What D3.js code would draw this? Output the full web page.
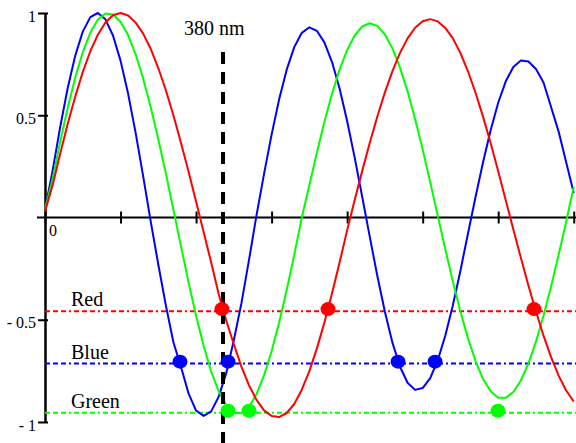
<!DOCTYPE html>
<html>
<head>
<meta charset="utf-8">
<script src="https://cdn.jsdelivr.net/npm/d3@7"></script>
<style>
  body { margin: 0; background: #fff; }
  svg { display: block; font-family: "Liberation Serif", "Times New Roman", serif; }
  svg text { font-family: "Liberation Serif", "Times New Roman", serif; }
</style>
</head>
<body>
<div id="chart"></div>
<script>
// sampled every 0.1 along the x axis (ticks 0..7)
const xStep = 0.1;

const blueValues = [
  0.04, 0.227, 0.44, 0.632, 0.791, 0.909, 0.98, 1.0, 0.969, 0.89,
  0.767, 0.606, 0.414, 0.201, -0.02, -0.23, -0.43, -0.61, -0.73, -0.86,
  -0.944, -0.97, -0.948, -0.876, -0.76, -0.6, -0.42, -0.21, 0.01, 0.213,
  0.405, 0.578, 0.723, 0.833, 0.903, 0.93, 0.913, 0.855, 0.76, 0.631,
  0.472, 0.293, 0.1, -0.095, -0.286, -0.461, -0.612, -0.73, -0.808, -0.843,
  -0.834, -0.785, -0.698, -0.577, -0.429, -0.26, -0.078, 0.1, 0.271, 0.427,
  0.561, 0.666, 0.736, 0.768, 0.763, 0.726, 0.66, 0.54, 0.42, 0.27, 0.12
];

const greenValues = [
  0.04, 0.187, 0.368, 0.535, 0.684, 0.808, 0.904, 0.968, 0.998, 0.993,
  0.957, 0.892, 0.798, 0.679, 0.539, 0.383, 0.215, 0.038, -0.14, -0.316,
  -0.48, -0.627, -0.753, -0.85, -0.918, -0.955, -0.957, -0.926, -0.864, -0.772,
  -0.654, -0.513, -0.355, -0.183, 0.0, 0.158, 0.318, 0.469, 0.605, 0.723,
  0.819, 0.89, 0.934, 0.95, 0.937, 0.895, 0.827, 0.733, 0.617, 0.482,
  0.333, 0.173, 0.008, -0.155, -0.313, -0.46, -0.591, -0.702, -0.79, -0.85,
  -0.881, -0.882, -0.853, -0.797, -0.713, -0.607, -0.48, -0.337, -0.182, -0.021, 0.15
];

const redValues = [
  0.03, 0.157, 0.311, 0.457, 0.591, 0.711, 0.813, 0.894, 0.954, 0.989,
  1.0, 0.988, 0.953, 0.899, 0.824, 0.731, 0.622, 0.5, 0.366, 0.225,
  0.078, -0.071, -0.22, -0.375, -0.505, -0.62, -0.729, -0.82, -0.892, -0.943,
  -0.971, -0.976, -0.956, -0.912, -0.842, -0.751, -0.64, -0.512, -0.371, -0.22,
  -0.063, 0.086, 0.228, 0.365, 0.494, 0.612, 0.716, 0.805, 0.876, 0.928,
  0.96, 0.97, 0.959, 0.927, 0.876, 0.804, 0.715, 0.61, 0.492, 0.364,
  0.226, 0.084, -0.058, -0.197, -0.333, -0.46, -0.578, -0.683, -0.773, -0.846, -0.9
];

// horizontal reference levels
const levels = [
  { name: "Red",   color: "#ff0000", value: -0.458 },
  { name: "Blue",  color: "#0000ff", value: -0.714 },
  { name: "Green", color: "#00ff00", value: -0.955 }
];

// marked crossings
const redDotsX = [2.343, 3.747, 6.474];
const redDotsY = [-0.448, -0.448, -0.448];
const blueDotsX = [1.787, 2.423, 4.674, 5.164];
const blueDotsY = [-0.705, -0.705, -0.705, -0.705];
const greenDotsX = [2.423, 2.701, 5.998];
const greenDotsY = [-0.945, -0.945, -0.945];

const markerX = 2.357;
const markerLabel = "380 nm";

const xTicks = [0, 1, 2, 3, 4, 5, 6, 7];
const yTicks = [-1, -0.5, 0.5, 1];

const width = 576, height = 443;
const serif = "'Liberation Serif', 'Times New Roman', serif";

const svg = d3.select("#chart").append("svg")
  .attr("width", width)
  .attr("height", height);

const x = d3.scaleLinear().domain([0, 7.03]).range([45, 576]);
const y = d3.scaleLinear().domain([-1, 1]).range([422, 13]);

// x axis (crossing ticks, no labels)
const xAxisG = svg.append("g")
  .attr("transform", `translate(0,${y(0)})`)
  .call(d3.axisBottom(x).tickValues(xTicks).tickFormat("").tickSizeOuter(0));
xAxisG.select(".domain").remove();
xAxisG.selectAll(".tick line")
  .attr("y1", -6).attr("y2", 6)
  .attr("stroke", "#000").attr("stroke-width", 2);
xAxisG.append("line")
  .attr("x1", 37).attr("x2", width)
  .attr("stroke", "#000").attr("stroke-width", 2);

// y axis
const yAxisG = svg.append("g")
  .attr("transform", `translate(${x(0)},0)`)
  .call(d3.axisLeft(y).tickValues(yTicks)
    .tickFormat(d => d < 0 ? "- " + Math.abs(d) : d)
    .tickSizeOuter(0).tickSizeInner(7))
  .attr("font-family", serif)
  .attr("font-size", 16);
yAxisG.select(".domain").attr("stroke", "#000").attr("stroke-width", 2.5);
yAxisG.selectAll(".tick line")
  .attr("x1", 3).attr("x2", -7)
  .attr("stroke", "#000").attr("stroke-width", 2);
yAxisG.selectAll(".tick text")
  .attr("x", -9).attr("dy", "0.5em")
  .style("font-family", serif)
  .attr("fill", "#000");

svg.append("text")
  .attr("x", 49).attr("y", 236)
  .attr("font-size", 16)
  .text("0");

// level lines + labels
svg.selectAll(".level")
  .data(levels)
  .enter().append("line")
  .attr("class", "level")
  .attr("x1", x(0)).attr("x2", width)
  .attr("y1", d => y(d.value)).attr("y2", d => y(d.value))
  .attr("stroke", d => d.color)
  .attr("stroke-width", 2)
  .attr("stroke-dasharray", "5,3,5,3,5,3,2,3");

svg.selectAll(".levelLabel")
  .data(levels)
  .enter().append("text")
  .attr("class", "levelLabel")
  .attr("x", 71)
  .attr("y", d => y(d.value) - 5)
  .attr("font-size", 20)
  .text(d => d.name);

// curves
const line = d3.line()
  .x((d, i) => x(i * xStep))
  .y(d => y(d));

const series = [
  { values: blueValues, color: "#0000ff" },
  { values: greenValues, color: "#00ff00" },
  { values: redValues, color: "#ff0000" }
];

svg.selectAll(".curve")
  .data(series)
  .enter().append("path")
  .attr("class", "curve")
  .attr("d", d => line(d.values))
  .attr("fill", "none")
  .attr("stroke", d => d.color)
  .attr("stroke-width", 2)
  .attr("stroke-linejoin", "round");

// 380 nm marker
svg.append("line")
  .attr("x1", x(markerX)).attr("x2", x(markerX))
  .attr("y1", 52).attr("y2", height)
  .attr("stroke", "#000")
  .attr("stroke-width", 4)
  .attr("stroke-dasharray", "12,8");

svg.append("text")
  .attr("x", 184).attr("y", 35)
  .attr("font-size", 20)
  .text(markerLabel);

// dots
const dotGroups = [
  { xs: redDotsX, ys: redDotsY, color: "#ff0000" },
  { xs: blueDotsX, ys: blueDotsY, color: "#0000ff" },
  { xs: greenDotsX, ys: greenDotsY, color: "#00ff00" }
];
dotGroups.forEach(g => {
  svg.selectAll(null)
    .data(g.xs.map((v, i) => [v, g.ys[i]]))
    .enter().append("ellipse")
    .attr("cx", d => x(d[0]))
    .attr("cy", d => y(d[1]))
    .attr("rx", 7.5).attr("ry", 7)
    .attr("fill", g.color);
});
</script>
</body>
</html>
